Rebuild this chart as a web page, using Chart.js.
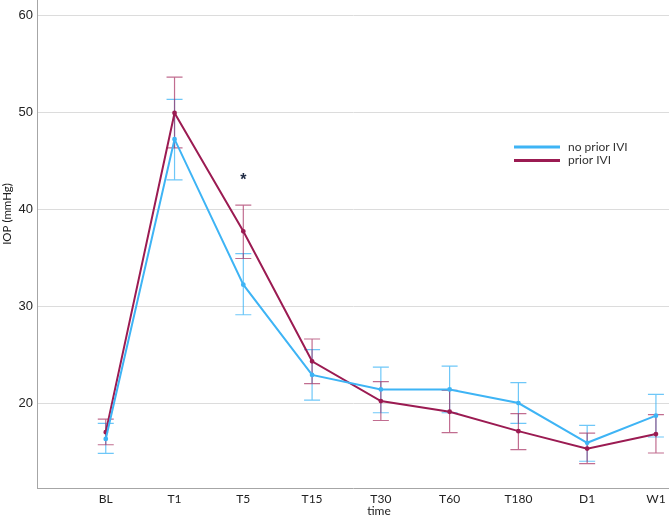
<!DOCTYPE html>
<html>
<head>
<meta charset="utf-8">
<script src="https://cdn.jsdelivr.net/npm/chart.js@4.4.1/dist/chart.umd.min.js"></script>
<style>
  body { margin: 0; background: #fff; }
  #wrap { width: 669px; height: 517px; position: relative; }
</style>
</head>
<body>
<div id="wrap"><canvas id="iopChart"></canvas></div>
<script>
// time points
const categories = ['BL', 'T1', 'T5', 'T15', 'T30', 'T60', 'T180', 'D1', 'W1'];

// no prior IVI: mean and error bar ends
const noPriorMean  = [16.3, 47.2, 32.2, 22.9, 21.4, 21.4, 20.0, 15.9, 18.7];
const noPriorUpper = [17.9, 51.3, 35.4, 25.5, 23.7, 23.8, 22.1, 17.7, 20.9];
const noPriorLower = [14.8, 43.0, 29.1, 20.3, 19.0, 19.0, 17.9, 14.0, 16.5];

// prior IVI
const priorMean  = [17.0, 49.9, 37.7, 24.3, 20.2, 19.1, 17.1, 15.3, 16.8];
const priorUpper = [18.35, 53.6, 40.4, 26.6, 22.2, 21.3, 18.9, 16.9, 18.8];
const priorLower = [15.7, 46.3, 34.9, 22.0, 18.2, 16.95, 15.2, 13.75, 14.85];

const yTicks = [20, 30, 40, 50, 60];

// significance marker
const starIndex = 2;
const starValue = 43.2;

const blue = 'rgb(62, 180, 245)';
const maroon = 'rgb(155, 27, 82)';
const labelFont = 'Lato, "Open Sans", sans-serif';

const toPoints = arr => arr.map((v, i) => ({ x: i, y: v }));

// error bars drawn with the chart scales
const errorBars = {
    id: 'errorBars',
    beforeDatasetsDraw(chart) {
        const { ctx, scales: { x, y } } = chart;
        const sets = [
            { lo: noPriorLower, hi: noPriorUpper, color: 'rgba(62, 180, 245, 0.75)' },
            { lo: priorLower, hi: priorUpper, color: 'rgba(160, 30, 85, 0.65)' }
        ];
        ctx.save();
        ctx.lineWidth = 1.2;
        sets.forEach(s => {
            ctx.strokeStyle = s.color;
            s.lo.forEach((lo, i) => {
                const px = x.getPixelForValue(i);
                const yl = y.getPixelForValue(lo);
                const yh = y.getPixelForValue(s.hi[i]);
                ctx.beginPath();
                ctx.moveTo(px, yl); ctx.lineTo(px, yh);
                ctx.moveTo(px - 8, yl); ctx.lineTo(px + 8, yl);
                ctx.moveTo(px - 8, yh); ctx.lineTo(px + 8, yh);
                ctx.stroke();
            });
        });
        ctx.restore();
    },
    afterDraw(chart) {
        const { ctx, scales: { x, y } } = chart;
        ctx.save();
        // asterisk
        ctx.fillStyle = '#1f2a44';
        ctx.font = 'bold 16px "Liberation Sans", Arial, sans-serif';
        ctx.textAlign = 'center';
        ctx.textBaseline = 'middle';
        ctx.fillText('*', x.getPixelForValue(starIndex), y.getPixelForValue(starValue) + 3);
        // axis titles
        ctx.fillStyle = '#222';
        ctx.font = '12px ' + labelFont;
        ctx.fillText('time', 379, 511);
        ctx.save();
        ctx.translate(7, 214);
        ctx.rotate(-Math.PI / 2);
        ctx.font = '11.5px ' + labelFont;
        ctx.fillText('IOP (mmHg)', 0, 0);
        ctx.restore();
        // legend
        const items = [['no prior IVI', blue], ['prior IVI', maroon]];
        ctx.font = '12px ' + labelFont;
        ctx.textAlign = 'left';
        items.forEach((it, k) => {
            const ly = 147 + k * 13.5;
            ctx.strokeStyle = it[1];
            ctx.lineWidth = 3;
            ctx.beginPath();
            ctx.moveTo(514, ly); ctx.lineTo(560, ly);
            ctx.stroke();
            ctx.fillStyle = '#333';
            ctx.fillText(it[0], 568, ly);
        });
        ctx.restore();
    }
};

const ctx = document.getElementById('iopChart').getContext('2d');
new Chart(ctx, {
    type: 'line',
    data: {
        datasets: [{
            label: 'no prior IVI',
            data: toPoints(noPriorMean),
            borderColor: blue,
            backgroundColor: blue,
            borderWidth: 2,
            pointRadius: 1.4,
            tension: 0
        }, {
            label: 'prior IVI',
            data: toPoints(priorMean),
            borderColor: maroon,
            backgroundColor: maroon,
            borderWidth: 2,
            pointRadius: 1.4,
            tension: 0
        }]
    },
    options: {
        responsive: true,
        maintainAspectRatio: false,
        animation: false,
        layout: { padding: 0, autoPadding: false },
        plugins: {
            legend: { display: false },
            tooltip: { enabled: false }
        },
        scales: {
            x: {
                type: 'linear',
                min: -1,
                max: 8.19,
                afterFit: s => { s.height = 29; s.paddingLeft = 0; s.paddingRight = 0; },
                grid: { display: false, drawTicks: false },
                border: { display: true, color: '#a6a6a6', width: 1 },
                ticks: {
                    stepSize: 1,
                    includeBounds: false,
                    autoSkip: false,
                    maxRotation: 0,
                    padding: 4,
                    color: '#222',
                    font: { family: labelFont, size: 12 },
                    callback: v => categories[v] || ''
                }
            },
            y: {
                min: 11.24,
                max: 61.55,
                afterFit: s => { s.width = 37; s.paddingTop = 0; s.paddingBottom = 0; },
                afterBuildTicks: s => { s.ticks = yTicks.map(v => ({ value: v })); },
                grid: { color: '#dcdcdc', lineWidth: 1, drawTicks: false },
                border: { display: true, color: '#a6a6a6', width: 1 },
                ticks: {
                    padding: 4,
                    color: '#222',
                    font: { family: '"Liberation Sans", Arial, sans-serif', size: 13 }
                }
            }
        }
    },
    plugins: [errorBars]
});
</script>
</body>
</html>
